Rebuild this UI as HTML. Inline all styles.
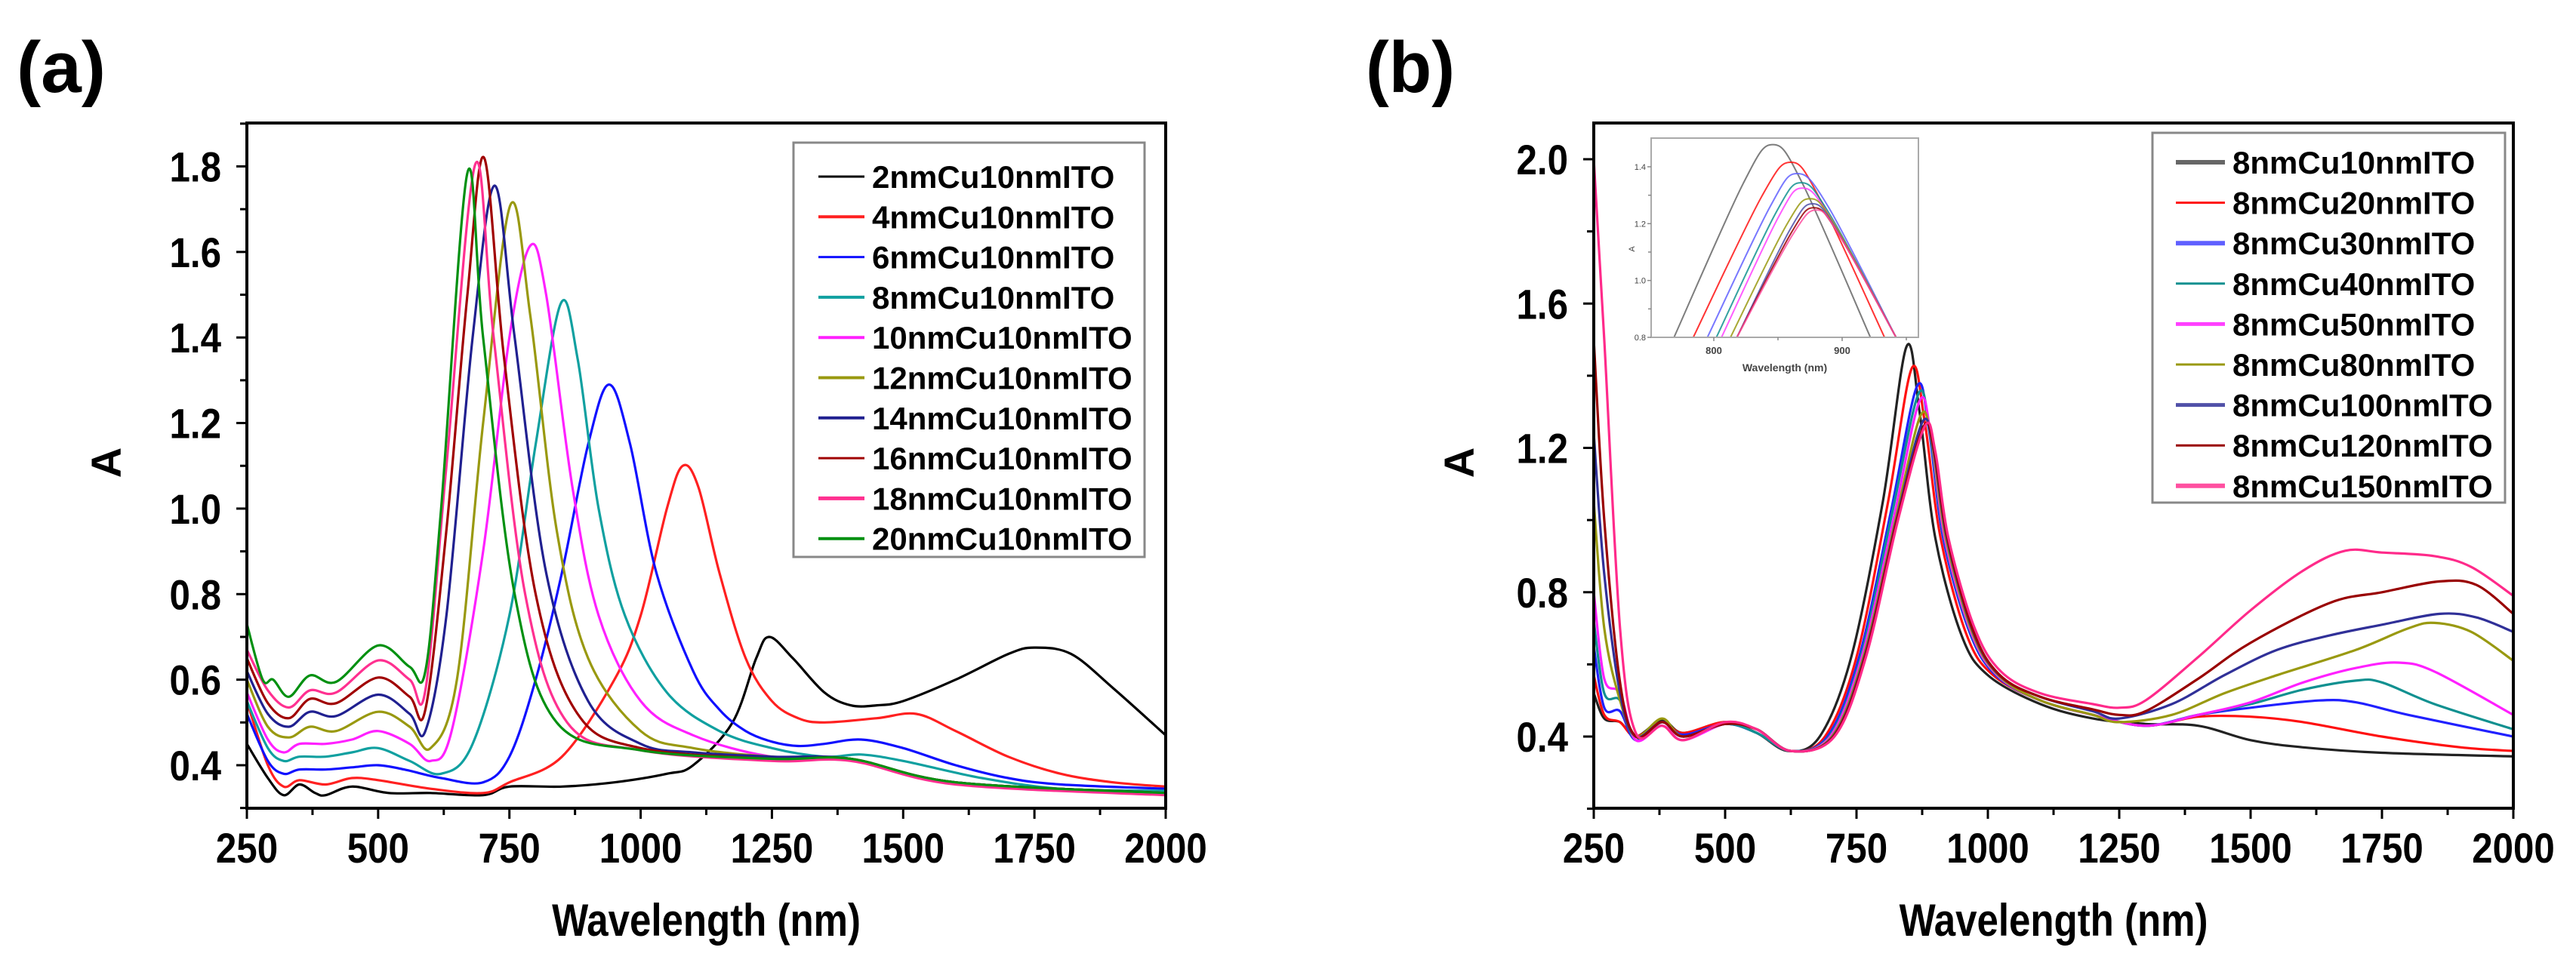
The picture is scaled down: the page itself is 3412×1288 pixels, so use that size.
<!DOCTYPE html>
<html><head><meta charset="utf-8"><style>
html,body{margin:0;padding:0;background:#fff;}
svg{display:block;font-family:"Liberation Sans",sans-serif;}
</style></head><body>
<svg id="fig" width="3412" height="1288" viewBox="0 0 3412 1288" xmlns="http://www.w3.org/2000/svg"></svg>
<script>
// ---------- Panel (a) data ----------
const aNames = ["2nmCu10nmITO","4nmCu10nmITO","6nmCu10nmITO","8nmCu10nmITO","10nmCu10nmITO","12nmCu10nmITO","14nmCu10nmITO","16nmCu10nmITO","18nmCu10nmITO","20nmCu10nmITO"];
const aColors = ["#000000","#ff2020","#1010ff","#10a0a0","#ff20ff","#999910","#202090","#a00000","#ff3090","#009010"];
const aS0 = [[250,0.45],[290,0.37],[320,0.33],[350,0.355],[380,0.335],[400,0.33],[450,0.35],[520,0.335],[600,0.335],[700,0.33],[750,0.35],[850,0.35],[950,0.36],[1050,0.38],[1100,0.40],[1175,0.5],[1220,0.65],[1245,0.70],[1290,0.65],[1350,0.57],[1400,0.54],[1450,0.54],[1500,0.55],[1600,0.60],[1700,0.66],[1750,0.675],[1820,0.66],[1900,0.58],[2000,0.47]];
const aS1 = [[250,0.55],[290,0.40],[320,0.35],[350,0.365],[400,0.355],[450,0.37],[500,0.365],[600,0.345],[700,0.335],[750,0.36],[850,0.42],[950,0.6],[1000,0.75],[1050,1.0],[1080,1.10],[1110,1.05],[1150,0.85],[1200,0.65],[1250,0.55],[1300,0.51],[1350,0.50],[1450,0.51],[1525,0.52],[1600,0.48],[1700,0.42],[1800,0.38],[1900,0.36],[2000,0.35]];
const aS2 = [[250,0.52],[290,0.41],[320,0.38],[350,0.39],[400,0.39],[450,0.395],[500,0.40],[550,0.39],[620,0.37],[700,0.36],[750,0.42],[800,0.6],[850,0.85],[900,1.15],[940,1.29],[980,1.15],[1030,0.85],[1100,0.62],[1150,0.53],[1200,0.48],[1250,0.455],[1300,0.445],[1350,0.45],[1420,0.46],[1500,0.44],[1600,0.40],[1700,0.37],[1800,0.355],[2000,0.345]];
const aS3 = [[250,0.55],[290,0.44],[320,0.41],[350,0.42],[400,0.42],[450,0.43],[500,0.44],[560,0.41],[620,0.38],[680,0.45],[750,0.75],[800,1.15],[848,1.48],[880,1.35],[920,1.0],[970,0.75],[1050,0.57],[1150,0.48],[1250,0.44],[1350,0.42],[1420,0.425],[1500,0.41],[1650,0.37],[1800,0.345],[2000,0.34]];
const aS4 = [[250,0.57],[290,0.46],[320,0.43],[350,0.45],[400,0.45],[450,0.46],[500,0.48],[560,0.45],[600,0.41],[640,0.48],[700,0.9],[750,1.4],[790,1.615],[820,1.5],[870,1.05],[920,0.75],[1000,0.55],[1100,0.47],[1250,0.42],[1400,0.415],[1600,0.36],[2000,0.335]];
const aS5 = [[250,0.6],[290,0.49],[330,0.465],[370,0.49],[420,0.48],[500,0.525],[560,0.49],[600,0.44],[650,0.6],[700,1.2],[752,1.71],[790,1.45],[840,0.95],[900,0.65],[1000,0.48],[1100,0.44],[1250,0.42],[1400,0.415],[1600,0.36],[2000,0.335]];
const aS6 = [[250,0.62],[290,0.52],[330,0.49],[370,0.525],[420,0.515],[500,0.565],[560,0.52],[590,0.48],[630,0.75],[680,1.4],[722,1.755],[760,1.4],[820,0.85],[900,0.55],[1000,0.45],[1100,0.43],[1250,0.42],[1400,0.415],[1600,0.36],[2000,0.335]];
const aS7 = [[250,0.65],[290,0.545],[330,0.51],[370,0.555],[420,0.545],[500,0.605],[560,0.56],[590,0.53],[630,0.95],[670,1.5],[702,1.82],[740,1.35],[800,0.8],[880,0.52],[1000,0.44],[1250,0.415],[1400,0.415],[1600,0.36],[2000,0.335]];
const aS8 = [[250,0.67],[290,0.575],[330,0.535],[370,0.575],[420,0.57],[500,0.645],[560,0.6],[590,0.575],[630,1.1],[685,1.805],[720,1.4],[780,0.8],[860,0.5],[1000,0.435],[1250,0.41],[1400,0.41],[1600,0.355],[2000,0.33]];
const aS9 = [[250,0.73],[280,0.6],[300,0.6],[330,0.56],[370,0.61],[420,0.595],[500,0.68],[560,0.63],[590,0.62],[620,1.0],[670,1.785],[700,1.4],[760,0.8],[840,0.5],[1000,0.435],[1250,0.415],[1400,0.415],[1600,0.36],[2000,0.335]];
const aSeries = [aS0,aS1,aS2,aS3,aS4,aS5,aS6,aS7,aS8,aS9];
const aXTicks = [250,500,750,1000,1250,1500,1750,2000];
const aYTicks = [0.4,0.6,0.8,1.0,1.2,1.4,1.6,1.8];
const aYMinor = [0.3,0.5,0.7,0.9,1.1,1.3,1.5,1.7,1.9];

// ---------- Panel (b) data ----------
const bNames = ["8nmCu10nmITO","8nmCu20nmITO","8nmCu30nmITO","8nmCu40nmITO","8nmCu50nmITO","8nmCu80nmITO","8nmCu100nmITO","8nmCu120nmITO","8nmCu150nmITO"];
const bColors = ["#222222","#ff1010","#2020ff","#109090","#ff20ff","#999910","#303098","#990000","#ff2a8a"];
const bLegendColors = ["#666666","#ff1010","#6060ff","#109090","#ff40ff","#999910","#5050a8","#990000","#ff50a0"];
const bS0 = [[250,0.52],[270,0.45],[300,0.44],[330,0.40],[380,0.445],[420,0.41],[500,0.44],[560,0.41],[620,0.36],[680,0.40],[740,0.62],[800,1.05],[845,1.48],[870,1.3],[900,0.95],[950,0.68],[1000,0.57],[1100,0.49],[1200,0.45],[1300,0.435],[1400,0.43],[1500,0.39],[1600,0.37],[1750,0.355],[2000,0.345]];
const bS1 = [[250,0.57],[270,0.46],[300,0.44],[330,0.40],[380,0.44],[420,0.41],[500,0.44],[560,0.41],[625,0.36],[690,0.40],[750,0.62],[810,1.05],[855,1.42],[880,1.27],[910,0.95],[960,0.68],[1010,0.57],[1100,0.5],[1200,0.46],[1300,0.43],[1400,0.455],[1500,0.455],[1600,0.44],[1750,0.40],[1900,0.37],[2000,0.36]];
const bS2 = [[250,0.65],[270,0.48],[300,0.47],[330,0.39],[380,0.44],[420,0.405],[500,0.435],[560,0.41],[625,0.36],[695,0.40],[755,0.62],[815,1.02],[865,1.37],[888,1.25],[915,0.95],[965,0.69],[1015,0.57],[1100,0.5],[1200,0.46],[1300,0.43],[1400,0.46],[1500,0.48],[1630,0.50],[1700,0.495],[1800,0.46],[2000,0.40]];
const bS3 = [[250,0.72],[270,0.52],[300,0.50],[330,0.39],[380,0.44],[420,0.40],[500,0.435],[560,0.41],[625,0.36],[698,0.40],[758,0.62],[818,1.02],[868,1.35],[890,1.24],[917,0.95],[967,0.69],[1017,0.57],[1100,0.5],[1200,0.46],[1300,0.43],[1400,0.46],[1500,0.49],[1600,0.53],[1700,0.555],[1750,0.55],[1850,0.49],[2000,0.42]];
const bS4 = [[250,0.80],[270,0.56],[300,0.52],[330,0.39],[380,0.43],[420,0.39],[500,0.435],[560,0.42],[625,0.36],[700,0.40],[760,0.62],[820,1.0],[870,1.33],[892,1.23],[918,0.95],[968,0.69],[1018,0.57],[1100,0.5],[1200,0.46],[1300,0.43],[1400,0.46],[1500,0.495],[1600,0.55],[1700,0.59],[1780,0.605],[1850,0.58],[2000,0.46]];
const bS5 = [[250,1.05],[270,0.70],[300,0.50],[330,0.40],[380,0.45],[420,0.40],[500,0.435],[560,0.42],[625,0.36],[703,0.40],[763,0.62],[824,1.0],[872,1.29],[894,1.21],[920,0.95],[970,0.69],[1020,0.57],[1100,0.5],[1200,0.46],[1250,0.44],[1350,0.46],[1450,0.52],[1550,0.57],[1700,0.64],[1800,0.70],[1850,0.715],[1920,0.69],[2000,0.61]];
const bS6 = [[250,1.24],[270,0.85],[300,0.52],[330,0.40],[380,0.44],[420,0.40],[500,0.435],[560,0.42],[625,0.36],[705,0.40],[765,0.62],[826,1.0],[875,1.27],[896,1.2],[922,0.95],[972,0.69],[1022,0.57],[1100,0.51],[1200,0.47],[1250,0.45],[1350,0.49],[1450,0.57],[1550,0.64],[1650,0.68],[1750,0.71],[1860,0.74],[1930,0.73],[2000,0.69]];
const bS7 = [[250,1.5],[270,1.0],[300,0.55],[330,0.40],[380,0.44],[420,0.40],[500,0.435],[560,0.42],[625,0.36],[706,0.40],[766,0.62],[827,1.0],[878,1.26],[898,1.19],[923,0.95],[973,0.69],[1023,0.57],[1100,0.51],[1200,0.475],[1250,0.46],[1300,0.47],[1400,0.56],[1500,0.66],[1650,0.77],[1750,0.80],[1860,0.83],[1930,0.82],[2000,0.74]];
const bS8 = [[250,2.0],[270,1.5],[300,0.7],[330,0.41],[380,0.43],[420,0.39],[500,0.44],[560,0.42],[625,0.36],[708,0.40],[768,0.62],[829,1.0],[880,1.26],[900,1.19],[925,0.95],[975,0.70],[1025,0.58],[1100,0.52],[1200,0.49],[1250,0.48],[1300,0.50],[1400,0.62],[1500,0.75],[1600,0.86],[1680,0.915],[1750,0.91],[1850,0.90],[1920,0.87],[2000,0.79]];
const bSeries = [bS0,bS1,bS2,bS3,bS4,bS5,bS6,bS7,bS8];
const bXTicks = [250,500,750,1000,1250,1500,1750,2000];
const bYTicks = [0.4,0.8,1.2,1.6,2.0];
const bYMinor = [0.2,0.6,1.0,1.4,1.8];

// ---------- Inset data ----------
const iS0 = [[769,0.8],[823,1.342],[846,1.478],[869,1.342],[922,0.8]];
const iS1 = [[784,0.8],[837,1.293],[860,1.416],[882,1.293],[933,0.8]];
const iS2 = [[795,0.8],[844,1.261],[865,1.376],[889,1.261],[942,0.8]];
const iS3 = [[802,0.8],[848,1.235],[868,1.344],[890,1.235],[942,0.8]];
const iS4 = [[806,0.8],[850,1.22],[869,1.325],[891,1.22],[942,0.8]];
const iS5 = [[813,0.8],[856,1.19],[875,1.288],[895,1.19],[942,0.8]];
const iS6 = [[818,0.8],[859,1.176],[877,1.27],[896,1.176],[942,0.8]];
const iS7 = [[818,0.8],[860,1.165],[878,1.256],[897,1.165],[942,0.8]];
const iS8 = [[818,0.8],[861,1.158],[880,1.248],[898,1.158],[942,0.8]];
const iSeries = [iS0,iS1,iS2,iS3,iS4,iS5,iS6,iS7,iS8];
const iXTicks = [800,900];
const iYTicks = [0.8,1.0,1.2,1.4];

const NS = "http://www.w3.org/2000/svg";
const svg = document.getElementById("fig");
function mk(tag, attrs, parent){ const e=document.createElementNS(NS,tag); for(const k in attrs) e.setAttribute(k,attrs[k]); (parent||svg).appendChild(e); return e; }
function lin(d0,d1,r0,r1){ return v => r0 + (v-d0)/(d1-d0)*(r1-r0); }
function smooth(pts){
  let d = "M"+pts[0][0].toFixed(1)+","+pts[0][1].toFixed(1);
  for(let i=0;i<pts.length-1;i++){
    const p0=pts[Math.max(0,i-1)], p1=pts[i], p2=pts[i+1], p3=pts[Math.min(pts.length-1,i+2)];
    const c1x=p1[0]+(p2[0]-p0[0])/6, c1y=p1[1]+(p2[1]-p0[1])/6;
    const c2x=p2[0]-(p3[0]-p1[0])/6, c2y=p2[1]-(p3[1]-p1[1])/6;
    d += " C"+c1x.toFixed(1)+","+c1y.toFixed(1)+" "+c2x.toFixed(1)+","+c2y.toFixed(1)+" "+p2[0].toFixed(1)+","+p2[1].toFixed(1);
  }
  return d;
}
// condensed text: placed via transform
function ctext(parent, x, y, anchor, size, sx, str){
  const t = mk("text",{x:0,y:0,"text-anchor":anchor,"font-size":size,"font-weight":"bold",fill:"#000",transform:"translate("+x+","+y+") scale("+sx+",1)"},parent);
  t.textContent = str;
  return t;
}

function panel(cfg){
  const k=(cfg.yPix0-cfg.yPix1)/(cfg.y1-cfg.y0);
  const yb = cfg.y0 - (cfg.B-cfg.yPix0)/k, yt = cfg.y1 + (cfg.yPix1-cfg.T)/k;
  const g = mk("g",{});
  
  
  const sx = lin(250,2000,cfg.L,cfg.R), sy = lin(yb,yt,cfg.B,cfg.T);
  const clipId = cfg.id+"clip";
  const cp = mk("clipPath",{id:clipId},g); mk("rect",{x:cfg.L,y:cfg.T,width:cfg.R-cfg.L,height:cfg.B-cfg.T},cp);
  const sg = mk("g",{"clip-path":"url(#"+clipId+")"},g);
  cfg.series.forEach((s,i)=>{
    const p = mk("path",{d:smooth(s.map(q=>[sx(q[0]),sy(q[1])])),fill:"none",stroke:cfg.colors[i],"stroke-width":3.2,"stroke-linejoin":"round"},sg);
    
    
  });
  const fr = mk("rect",{x:cfg.L,y:cfg.T,width:cfg.R-cfg.L,height:cfg.B-cfg.T,fill:"none",stroke:"#000","stroke-width":4},g);
  
  
  cfg.xticks.forEach((v,i)=>{
    const x=sx(v);
    mk("line",{x1:x,x2:x,y1:cfg.B,y2:cfg.B+14,stroke:"#000","stroke-width":3},g);
    if(i<cfg.xticks.length-1){ const xm=sx(v+125); mk("line",{x1:xm,x2:xm,y1:cfg.B,y2:cfg.B+9,stroke:"#000","stroke-width":3},g); }
    const t = ctext(g, x, 1143, "middle", 56, 0.88, String(v));
    
    
  });
  cfg.yticks.forEach(v=>{
    const y=sy(v);
    mk("line",{x1:cfg.L-14,x2:cfg.L,y1:y,y2:y,stroke:"#000","stroke-width":3},g);
    const t = ctext(g, cfg.L-34, y+20, "end", 56, 0.88, v.toFixed(1));
    
    
  });
  cfg.yminor.forEach(v=>{ const y=sy(v); mk("line",{x1:cfg.L-9,x2:cfg.L,y1:y,y2:y,stroke:"#000","stroke-width":3},g); });
  const xt = ctext(g, (cfg.L+cfg.R)/2, 1240, "middle", 60, 0.85, "Wavelength (nm)");
  
  
  const yt2 = mk("text",{x:cfg.yTitleX,y:613,"text-anchor":"middle","font-size":56,"font-weight":"bold",fill:"#000",transform:"rotate(-90 "+cfg.yTitleX+" 613)"},g);
  yt2.textContent = "A";
  
  
  const pl = mk("text",{x:cfg.labelX,y:122,"font-size":96,"font-weight":"bold",fill:"#000",textLength:118,lengthAdjust:"spacingAndGlyphs"},g);
  pl.textContent = "("+cfg.id+")";
  
  
  const lg = mk("g",{},g);
  
  
  mk("rect",{x:cfg.lgX,y:cfg.lgY,width:cfg.lgW,height:cfg.lgH,fill:"#fff",stroke:"#888","stroke-width":3},lg);
  cfg.names.forEach((n,i)=>{
    const y = cfg.row0 + i*cfg.rowH;
    const e = mk("g",{},lg);
    
    
    mk("line",{x1:cfg.lnX1,x2:cfg.lnX2,y1:y,y2:y,stroke:cfg.legendColors[i],"stroke-width":cfg.lnW[i]},e);
    const t = mk("text",{x:cfg.txX,y:y+15,"font-size":42,"font-weight":"bold",fill:"#000"},e);
    t.textContent = n;
  });
}

panel({id:"a",L:327,R:1544,T:163,B:1071,y0:0.4,y1:1.8,yPix0:1014,yPix1:220.5,
  series:aSeries,colors:aColors,legendColors:aColors,names:aNames,xticks:aXTicks,yticks:aYTicks,yminor:aYMinor,
  yTitleX:160,labelX:22,lgX:1051,lgY:189,lgW:465,lgH:549,row0:234,rowH:53.3,lnX1:1084,lnX2:1145,txX:1155,
  lnW:[3,4,3,4,4,4,4,3,5,4]});
panel({id:"b",L:2111,R:3329,T:163,B:1071,y0:0.4,y1:2.0,yPix0:976,yPix1:211,
  series:bSeries,colors:bColors,legendColors:bLegendColors,names:bNames,xticks:bXTicks,yticks:bYTicks,yminor:bYMinor,
  yTitleX:1952,labelX:1809,lgX:2851,lgY:176,lgW:467,lgH:490,row0:215,rowH:53.6,lnX1:2882,lnX2:2947,txX:2957,
  lnW:[6,3,6,3,5,3,5,3,6]});

// ---------- inset ----------
(function(){
  const L=2187,R=2541,T=183,B=447;
  const g = mk("g",{});
  
  
  const sx = lin(800,900,2270,2440), sy = lin(0.8,1.4,447,221);
  mk("rect",{x:L,y:T,width:R-L,height:B-T,fill:"#fff"},g);
  const cp = mk("clipPath",{id:"iclip"},g); mk("rect",{x:L,y:T,width:R-L,height:B-T},cp);
  const sg = mk("g",{"clip-path":"url(#iclip)"},g);
  iSeries.forEach((s,i)=>{
    const p = mk("path",{d:smooth(s.map(q=>[sx(q[0]),sy(q[1])])),fill:"none",stroke:bLegendColors[i],"stroke-width":2,"stroke-opacity":0.85},sg);
    
    
  });
  mk("rect",{x:L,y:T,width:R-L,height:B-T,fill:"none",stroke:"#aaa","stroke-width":2},g);
  iXTicks.forEach(v=>{ const x=sx(v); mk("line",{x1:x,x2:x,y1:B,y2:B+5,stroke:"#888","stroke-width":1.5},g);
    const t=mk("text",{x:x,y:B+22,"text-anchor":"middle","font-size":13,"font-weight":"bold",fill:"#444"},g); t.textContent=String(v);
    
     });
  [850,950].forEach(v=>{ const x=sx(v); mk("line",{x1:x,x2:x,y1:B,y2:B+4,stroke:"#888","stroke-width":1.5},g); });
  iYTicks.forEach(v=>{ const y=sy(v); mk("line",{x1:L-5,x2:L,y1:y,y2:y,stroke:"#888","stroke-width":1.5},g);
    const t=mk("text",{x:L-7,y:y+4,"text-anchor":"end","font-size":11,fill:"#444"},g); t.textContent=v.toFixed(1);
    
     });
  [0.9,1.1,1.3].forEach(v=>{ const y=sy(v); mk("line",{x1:L-4,x2:L,y1:y,y2:y,stroke:"#888","stroke-width":1.5},g); });
  const xt=mk("text",{x:(L+R)/2,y:B+45,"text-anchor":"middle","font-size":14,"font-weight":"bold",fill:"#444"},g); xt.textContent="Wavelength (nm)";
  
  
  const yt=mk("text",{x:L-22,y:330,"text-anchor":"middle","font-size":11,fill:"#444",transform:"rotate(-90 "+(L-22)+" 330)"},g); yt.textContent="A";
  
  
})();
</script>
</body></html>
